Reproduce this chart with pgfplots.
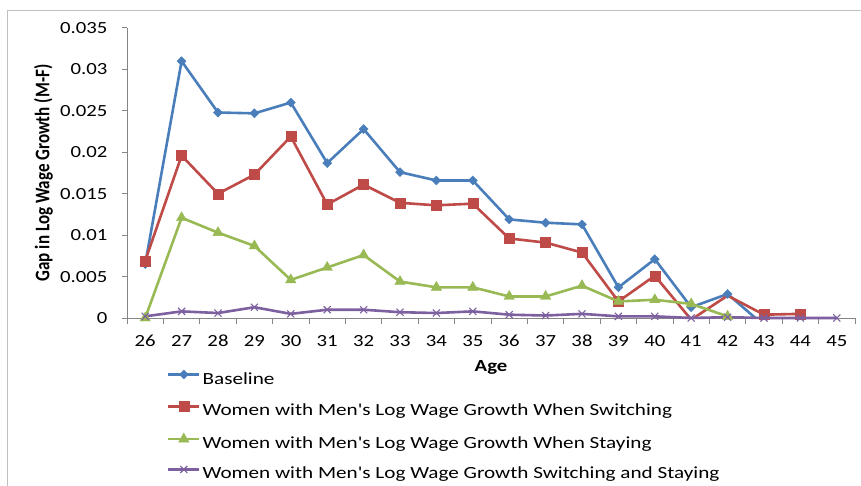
\documentclass[border=0pt]{standalone}
\usepackage{graphicx}
\usepackage{fontspec}
\setmainfont{Carlito}
\usepackage{pgfplots}
\pgfplotsset{compat=1.18}

\definecolor{cBlue}{HTML}{4A7EBB}
\definecolor{cRed}{HTML}{BE4B48}
\definecolor{cGreen}{HTML}{98B954}
\definecolor{cPurple}{HTML}{7D60A0}
\definecolor{axisgray}{HTML}{868686}
\definecolor{framegray}{HTML}{BFBFBF}

% wide-set text, as in the spreadsheet export
\newcommand{\sx}[1]{\scalebox{1.22}[1]{#1}}
\newcommand{\lx}[1]{\scalebox{1.245}[1]{#1}}

\pgfplotsset{
  common/.style={
    at={(127pt,167pt)}, anchor=south west,
    scale only axis, width=728pt, height=290pt,
    xmin=25.5, xmax=45.5, ymin=0, ymax=0.035,
  },
  sBase/.style={color=cBlue, line width=2.6pt, mark=diamond*, mark size=4.5pt,
    mark options={solid, line width=0.4pt, xscale=1.33}},
  sSwitch/.style={color=cRed, line width=2.6pt, mark=square*, mark size=5pt,
    mark options={solid, line width=0.4pt}},
  sStay/.style={color=cGreen, line width=2.6pt, mark=triangle*, mark size=6pt,
    mark options={solid, line width=0.4pt}},
  sBoth/.style={color=cPurple, line width=2.6pt, mark=x, mark size=5pt,
    mark options={solid, line width=1.1pt}},
}

\begin{document}
\begin{tikzpicture}[font=\fontsize{17}{20}\selectfont]
\useasboundingbox (0pt,0pt) rectangle (861pt,485pt);
% chart area border
\draw[framegray, line width=1pt] (7pt,-2pt) -- (7pt,474pt) -- (865pt,474pt);

% series that dip below zero: clipped at the plot area
\begin{axis}[common, hide axis, clip=true]
\addplot[sBase, mark indices={1,...,17}] coordinates {
  (26,0.0065) (27,0.0310) (28,0.0248) (29,0.0247) (30,0.0260) (31,0.0187)
  (32,0.0228) (33,0.0176) (34,0.0166) (35,0.0166) (36,0.0119) (37,0.0115)
  (38,0.0113) (39,0.0037) (40,0.0071) (41,0.0013) (42,0.0029) (43,-0.0009)};
\addplot[sSwitch, mark indices={1,...,15,17,18,19}] coordinates {
  (26,0.0069) (27,0.0196) (28,0.0150) (29,0.0173) (30,0.0219) (31,0.0137)
  (32,0.0161) (33,0.0139) (34,0.0136) (35,0.0138) (36,0.0096) (37,0.0091)
  (38,0.0079) (39,0.0020) (40,0.0051) (41,-0.0002) (42,0.0027) (43,0.0004)
  (44,0.0005)};
\end{axis}

% axes, labels, legend and the non-negative series
\begin{axis}[common, clip=false,
  axis x line*=bottom, axis y line*=left,
  axis line style={-, draw=axisgray, line width=1pt},
  scaled y ticks=false,
  xtick={26,...,45},
  xticklabels={\sx{26},\sx{27},\sx{28},\sx{29},\sx{30},\sx{31},\sx{32},\sx{33},\sx{34},\sx{35},
               \sx{36},\sx{37},\sx{38},\sx{39},\sx{40},\sx{41},\sx{42},\sx{43},\sx{44},\sx{45}},
  ytick={0,0.005,0.01,0.015,0.02,0.025,0.03,0.035},
  yticklabels={\sx{0},\sx{0.005},\sx{0.01},\sx{0.015},\sx{0.02},\sx{0.025},\sx{0.03},\sx{0.035}},
  major tick length=0pt,
  minor xtick={25.5,26.5,...,45.5},
  minor ytick={0,0.005,0.01,0.015,0.02,0.025,0.03,0.035},
  minor tick length=5.5pt,
  tick align=outside,
  minor tick style={draw=axisgray, line width=1pt},
  xticklabel style={anchor=base, inner sep=0pt, yshift=-28.7pt, text=black},
  yticklabel style={anchor=east, inner sep=0pt, xshift=-19.5pt, text=black},
  xlabel={\sx{\bfseries Age}},
  xlabel style={at={(axis description cs:0.5,-0.186)}, anchor=base, inner sep=0pt},
  ylabel={\scalebox{1}[1.22]{\bfseries Gap in Log Wage Growth (M-F)}},
  ylabel style={at={(axis description cs:-0.1016,0.5)}, anchor=south, inner sep=0pt},
  legend image code/.code={
    \draw[#1, mark repeat=2, mark phase=2]
      plot coordinates {(0pt,5.5pt) (15.5pt,5.5pt) (31pt,5.5pt)};},
  legend cell align=left,
  legend style={at={(axis description cs:0.05495,-0.1793)}, anchor=north west,
    draw=none, fill=none, inner sep=0pt, outer sep=0pt,
    row sep=13.3pt, column sep=2pt,
    nodes={inner sep=0pt, text height=12pt, text depth=4pt}},
]
\addlegendimage{sBase}
\addlegendentry{\lx{Baseline}}
\addlegendimage{sSwitch}
\addlegendentry{\lx{Women with Men\textquotesingle s Log Wage Growth When Switching}}
\addplot[sStay] coordinates {
  (26,0.0000) (27,0.0121) (28,0.0103) (29,0.0087) (30,0.0046) (31,0.0061)
  (32,0.0076) (33,0.0044) (34,0.0037) (35,0.0037) (36,0.0026) (37,0.0026)
  (38,0.0039) (39,0.0020) (40,0.0022) (41,0.0017) (42,0.0002)};
\addlegendentry{\lx{Women with Men\textquotesingle s Log Wage Growth When Staying}}
\addplot[sBoth] coordinates {
  (26,0.0002) (27,0.0008) (28,0.0006) (29,0.0013) (30,0.0005) (31,0.0010)
  (32,0.0010) (33,0.0007) (34,0.0006) (35,0.0008) (36,0.0004) (37,0.0003)
  (38,0.0005) (39,0.0002) (40,0.0002) (41,0.0000) (42,0.0001) (43,0.0000)
  (44,0.0000) (45,0.0000)};
\addlegendentry{\lx{Women with Men\textquotesingle s Log Wage Growth Switching and Staying}}
\end{axis}
\end{tikzpicture}
\end{document}
